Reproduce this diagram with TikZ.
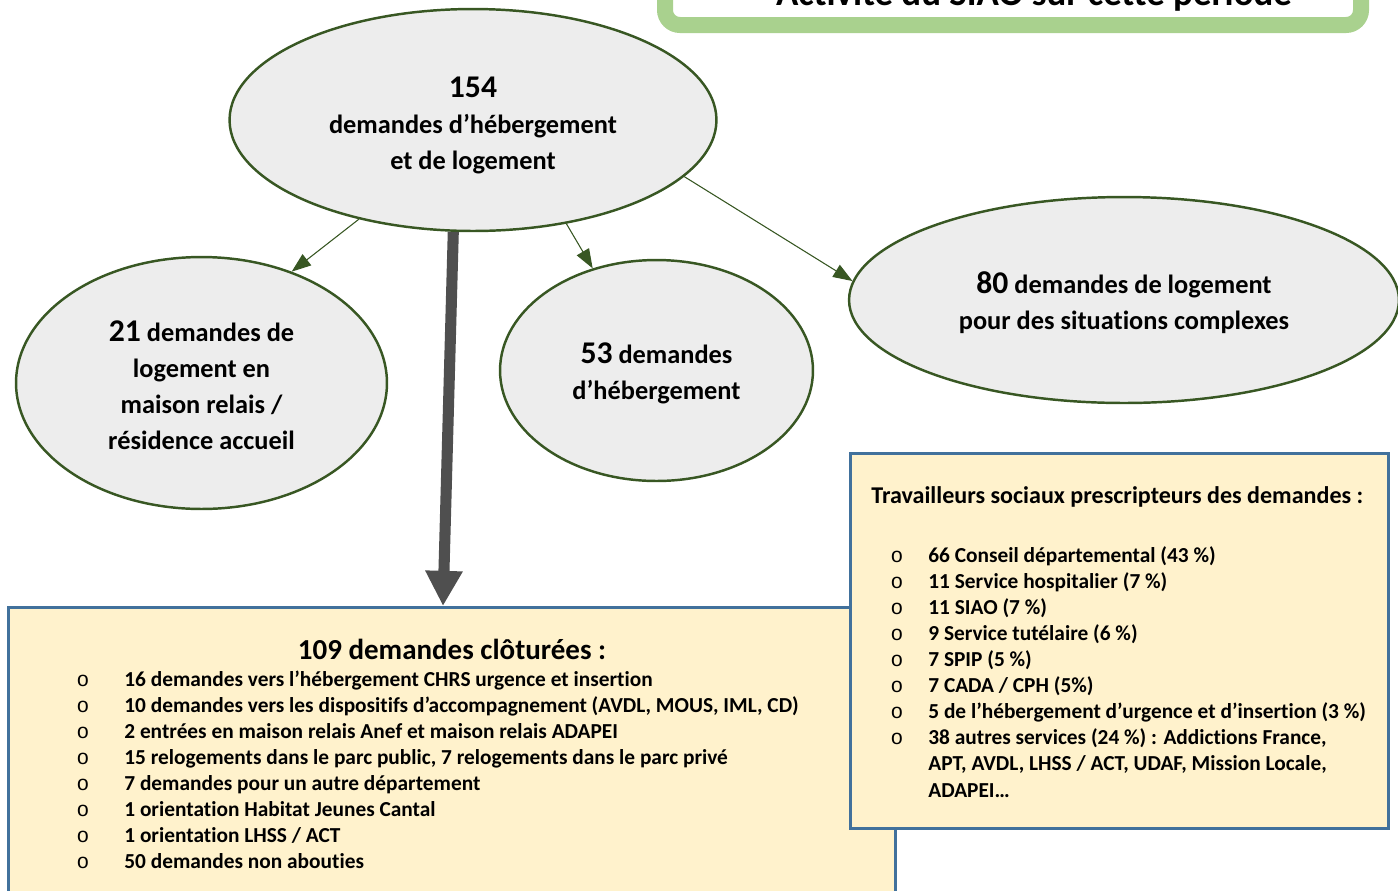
\documentclass[tikz,border=0pt]{standalone}
\usepackage{fontspec}
\setmainfont{Carlito}[Ligatures=NoCommon]
\newfontfamily\kreisfont{Liberation Mono}
\usetikzlibrary{arrows.meta,shapes.geometric}

\definecolor{blasefill}{HTML}{EDEDED}
\definecolor{blaserand}{HTML}{385723}
\definecolor{kastenfill}{HTML}{FFF2CC}
\definecolor{kastenrand}{HTML}{41719C}
\definecolor{titelgruen}{HTML}{A9D18E}
\definecolor{pfeilgrau}{HTML}{4F4F4F}

\newcommand{\zahl}[1]{{\fontsize{18}{20.5}\selectfont #1}}
\newcommand{\oben}[1]{\rule{0pt}{#1}}

\begin{document}
\begin{tikzpicture}[x=0.02cm, y=-0.02cm, >={Triangle[length=11pt,width=8pt]},
  blase/.style={ellipse, draw=blaserand, fill=blasefill, line width=1.4pt,
    inner sep=0pt, align=center, font=\bfseries\fontsize{15}{20.5}\selectfont},
  kasten/.style={rectangle, draw=kastenrand, fill=kastenfill, line width=1.7pt, inner sep=0pt},
  zeile/.style={anchor=base west, inner sep=0pt, font=\bfseries\fontsize{12.15}{14}\selectfont},
  punkt/.style={anchor=base, inner sep=0pt, font=\kreisfont\fontsize{12}{14}\selectfont},
  duenn/.style={->, draw=blaserand, fill=blaserand, line width=0.6pt}]
\useasboundingbox (0,0) rectangle (1398,890);

% Titel (oben abgeschnitten)
\draw[titelgruen, line width=0.32cm, fill=white, rounded corners=0.3cm] (665,-60) rectangle (1361,25);
\node[anchor=base, font=\bfseries\fontsize{21}{24}\selectfont] (titel) at (1034,5) {Activité du SIAO sur cette période};

% Blasen
\node[blase, minimum width=9.74cm, minimum height=4.44cm] (gesamt) at (473,120)
  {\oben{18pt}\zahl{154}\\demandes d’hébergement\\et de logement};
\node[blase, minimum width=7.42cm, minimum height=5.04cm] (maison) at (201.5,383)
  {\oben{14pt}\zahl{21} demandes de\\logement en\\maison relais /\\résidence accueil};
\node[blase, minimum width=6.26cm, minimum height=4.42cm] (hebergement) at (656.5,370.5)
  {\oben{15pt}\zahl{53} demandes\\d’hébergement};
\node[blase, minimum width=11cm, minimum height=4.12cm] (complexe) at (1124,300)
  {\oben{15pt}\zahl{80} demandes de logement\\pour des situations complexes};

\draw[duenn] (gesamt.221) -- (maison.51);
\draw[duenn] (gesamt.312) -- (hebergement.122);
\draw[duenn] (gesamt.345) -- (complexe.176);

% Kaesten
\node[kasten, minimum width=17.76cm, minimum height=6.06cm] (geschlossen) at (452,758.5) {};
\node[kasten, minimum width=10.78cm, minimum height=7.52cm] (prescripteurs) at (1119.5,641) {};

\coordinate (spitze) at (443,606);
\draw[pfeilgrau, line width=6.3pt, -{Triangle[length=20pt,width=20pt]}] (gesamt.260) -- (spitze);

\node[anchor=base, font=\bfseries\fontsize{16.5}{18}\selectfont] (gtitel) at (452,659) {109 demandes clôturées :};
\foreach \txt [count=\i] in {
  {16 demandes vers l’hébergement CHRS urgence et insertion},
  {10 demandes vers les dispositifs d’accompagnement (AVDL, MOUS, IML, CD)},
  {2 entrées en maison relais Anef et maison relais ADAPEI},
  {15 relogements dans le parc public, 7 relogements dans le parc privé},
  {7 demandes pour un autre département},
  {1 orientation Habitat Jeunes Cantal},
  {1 orientation LHSS / ACT},
  {50 demandes non abouties}} {
  \node[punkt] (gp\i) at (83,660+26*\i) {o};
  \node[zeile] (g\i) at (124,660+26*\i) {\txt};
}

\node[anchor=base west, inner sep=0pt, font=\bfseries\fontsize{13.7}{15}\selectfont] (ptitel) at (871,503)
  {Travailleurs sociaux prescripteurs des demandes :};
\foreach \txt [count=\i] in {
  {66 Conseil départemental (43 \%)},
  {11 Service hospitalier (7 \%)},
  {11 SIAO (7 \%)},
  {9 Service tutélaire (6 \%)},
  {7 SPIP (5 \%)},
  {7 CADA / CPH (5\%)},
  {5 de l’hébergement d’urgence et d’insertion (3 \%)},
  {38 autres services (24 \%) : Addictions France,}} {
  \node[punkt] (pp\i) at (897,536+26.1*\i) {o};
  \node[zeile] (p\i) at (928,536+26.1*\i) {\txt};
}
\node[zeile] (p9) at (928,536+26.1*9) {APT, AVDL, LHSS / ACT, UDAF, Mission Locale,};
\node[zeile] (p10) at (928,536+26.1*10) {ADAPEI…};
\end{tikzpicture}
\end{document}
